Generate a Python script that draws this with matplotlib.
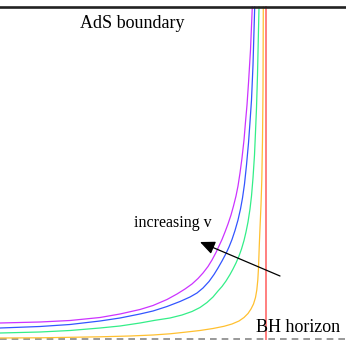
import matplotlib
matplotlib.use("Agg")
import matplotlib.pyplot as plt

# curves, pixel-like units (x to the right, y downward)
mag_x = [0, 40, 70, 100, 120, 140, 153, 167, 177, 185, 192, 198, 203, 208, 212, 216,
         219, 222, 225, 228, 231, 233.5, 236, 238, 240, 242, 244, 245.5, 247, 248.5, 250.5, 252.3]
mag_y = [323, 322, 320.5, 317.5, 314, 309.5, 305.5, 299.5, 294, 289, 284, 278.5, 273, 266.5, 260, 252.5,
         246, 239.5, 232, 224, 215, 206, 196, 186, 173, 158, 140, 122, 105, 83, 50, 7]

blue_x = [0, 40, 70, 100, 120, 140, 153, 167, 180, 190, 197, 203, 209, 214, 218, 222,
          226, 229, 232, 235, 238, 240.5, 242.5, 244.5, 246.5, 248.5, 250, 251.5, 253, 254.7]
blue_y = [328, 326.5, 324.5, 321, 318, 314, 311, 306.5, 301.5, 297, 293, 288, 281.5, 274.5, 268, 261,
          253.5, 247, 239.5, 230.5, 220, 209, 198, 184, 165, 143, 122, 100, 65, 7]

green_x = [0, 40, 70, 100, 120, 140, 155, 170, 182, 192, 200, 207, 213, 218, 222, 226,
           230, 233, 236, 239, 241.5, 244, 246, 248, 250, 251.5, 253, 254.5, 255.5, 256.5, 257.5, 259]
green_y = [333, 332, 330.5, 328, 326, 323, 320.3, 318, 315, 311.5, 307.5, 302.5, 297, 291, 286.5, 281,
           274.5, 269, 263, 256, 249, 240.5, 232, 222, 209, 196, 178, 155, 132, 108, 75, 7]

orange_x = [0, 40, 70, 100, 130, 153, 170, 185, 200, 213, 224, 232, 239, 244, 248, 251,
            253.5, 255.5, 256.8, 257.8, 258.5, 259.3, 260, 261, 261.8, 262.5, 263, 263.3]
orange_y = [338, 337.8, 337.3, 336.8, 336, 335, 333.8, 332.2, 330.5, 328.5, 326.3, 324, 321, 317.5, 313.5, 309,
            304, 297.5, 290, 280, 268, 245, 228, 205, 180, 140, 90, 7]

red_x = [265.7, 265.7]
red_y = [7, 339]

boundary_y = 6.5
horizon_y = 339

fig = plt.figure(figsize=(3.46, 3.46), dpi=100)
ax = fig.add_axes([0, 0, 1, 1])
ax.set_xlim(0, 346)
ax.set_ylim(346, 0)
ax.axis("off")

ax.axhline(horizon_y, color="#888888", lw=1.2, dashes=(4, 3))
ax.plot(orange_x, orange_y, color="#ffc030", lw=0.9)
ax.plot(green_x, green_y, color="#33ee88", lw=0.9)
ax.plot(blue_x, blue_y, color="#3355ff", lw=0.9)
ax.plot(mag_x, mag_y, color="#cc33ff", lw=0.9)
ax.plot(red_x, red_y, color="#ff7f7f", lw=1.4)
ax.axhline(boundary_y, color="#222222", lw=1.9)

serif = ["Liberation Serif", "DejaVu Serif"]
ax.text(132.5, 27.5, "AdS boundary", ha="center", va="baseline", fontsize=13, family=serif)
ax.text(298, 331.5, "BH horizon", ha="center", va="baseline", fontsize=13, family=serif)
ax.text(172.5, 227, "increasing v", ha="center", va="baseline", fontsize=11.5, family=serif)

ax.annotate("", xy=(200, 242), xytext=(280, 276),
            arrowprops=dict(arrowstyle="-|>,head_length=0.45,head_width=0.2",
                            mutation_scale=20, color="black", lw=0.9,
                            shrinkA=0, shrinkB=0))

fig.savefig("out.png", dpi=100)
